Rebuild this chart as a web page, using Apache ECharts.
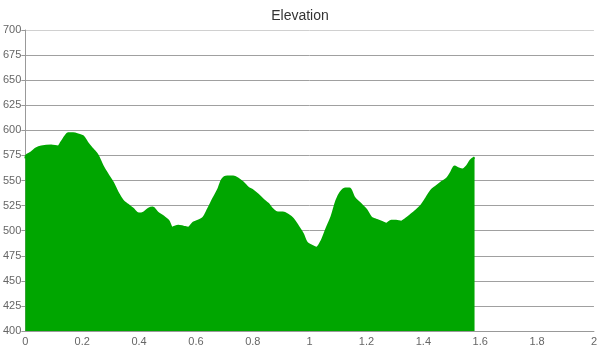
<!DOCTYPE html>
<html><head><meta charset="utf-8">
<script src="https://cdn.jsdelivr.net/npm/echarts@6/dist/echarts.min.js"></script>
<style>html,body{margin:0;padding:0;background:#fff}#c{width:600px;height:350px}</style>
</head><body><div id="c"></div>
<script>
const distances = [0.000,0.003,0.021,0.038,0.056,0.091,0.115,0.126,0.140,0.150,0.168,0.185,0.203,0.220,0.238,0.255,0.273,0.290,0.308,0.325,0.343,0.360,0.378,0.399,0.416,0.434,0.448,0.465,0.486,0.503,0.517,0.538,0.556,0.573,0.591,0.608,0.626,0.643,0.661,0.678,0.692,0.710,0.731,0.748,0.766,0.783,0.801,0.818,0.836,0.853,0.871,0.888,0.906,0.923,0.941,0.958,0.976,0.990,1.007,1.024,1.042,1.059,1.077,1.094,1.108,1.126,1.140,1.157,1.178,1.199,1.217,1.234,1.252,1.269,1.287,1.304,1.322,1.339,1.357,1.374,1.392,1.409,1.427,1.444,1.462,1.483,1.497,1.510,1.524,1.538,1.552,1.566,1.580];
const elevations = [572,575,578,582,584,585,584,588,594,597,597,596,594,587,581,575,564,556,548,538,530,526,522,517,518,522,523,518,514,510,503,505,504,503,508,510,513,522,532,541,551,554,554,552,548,543,540,536,531,527,521,518,518,516,512,505,497,488,485,483,490,502,514,530,538,542,542,533,527,521,513,511,509,507,510,510,509,512,516,520,525,532,540,544,548,552,558,564,562,561,564,570,573];
const chart = echarts.init(document.getElementById('c'), null, {renderer:'canvas'});
const font = 'Liberation Sans, Arial, sans-serif';
const gridColors = ['#a0a0a0','#a0a0a0','#a0a0a0','#a0a0a0','#a0a0a0','#a0a0a0','#a0a0a0','#a0a0a0','#a0a0a0','#a0a0a0','#a0a0a0','#a0a0a0','#d0d0d0'];
chart.setOption({
  animation:false,
  title:{text:'Elevation',left:'center',top:4,textStyle:{fontFamily:font,fontSize:14,fontWeight:'normal',color:'#333'}},
  grid:{left:24,right:4,top:30,bottom:19,containLabel:false},
  xAxis:{type:'value',min:0,max:2,interval:0.2,
    axisLine:{show:true,lineStyle:{color:'#999'}},
    axisTick:{show:false},
    splitLine:{show:false},
    axisLabel:{fontFamily:font,fontSize:11,color:'#666',margin:5}},
  yAxis:{type:'value',min:400,max:700,interval:25,
    axisLine:{show:true,lineStyle:{color:'#999'}},
    axisTick:{show:true,length:4,lineStyle:{color:'#999'}},
    splitLine:{show:true,lineStyle:{color:gridColors,width:1}},
    axisLabel:{fontFamily:font,fontSize:11,color:'#666',margin:4}},
  series:[{type:'line',data:distances.map((d,i)=>[d,elevations[i]]),
    smooth:0.3,symbol:'none',
    lineStyle:{color:'#00a600',width:2},
    areaStyle:{color:'#00a600',opacity:1,origin:'start'}}]
});
</script></body></html>
